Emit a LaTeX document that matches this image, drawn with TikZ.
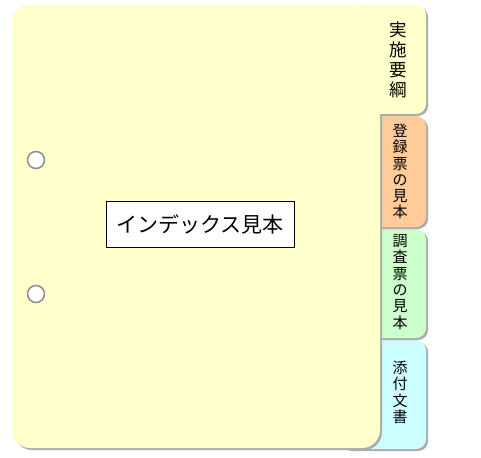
\documentclass[tikz,border=0pt]{standalone}
\usepackage{fontspec}
\usepackage{xcolor}
\usepackage{tikz}
\newfontfamily\jpfont{Noto Sans CJK JP}
\definecolor{pageyellow}{HTML}{FFFFCC}
\definecolor{tabpeach}{HTML}{FFCC99}
\definecolor{tabgreen}{HTML}{CCFFCC}
\definecolor{tabcyan}{HTML}{CCFFFF}
\definecolor{shadowgray}{HTML}{A8ACAC}

\begin{document}
\begin{tikzpicture}[x=1pt, y=-1pt]
\tikzstyle{shade} = [fill=shadowgray, shift={(2pt,-2pt)}]
\tikzstyle{tab} = [rounded corners=10pt]
\tikzstyle{hole} = [draw=gray!85, line width=1.6pt, fill=white]
\tikzstyle{tablabel} = [align=center, inner sep=0pt, font=\jpfont\fontsize{15}{16.3}\selectfont]
\tikzstyle{title} = [rectangle, draw, fill=white, minimum width=188pt, minimum height=46pt, font=\jpfont\fontsize{21}{24}\selectfont]

\useasboundingbox (0,0) rectangle (481,457);

% tabs behind the page, back to front
\fill[shade, tab] (340,340) rectangle (426,449);
\fill[tabcyan, tab] (340,340) rectangle (426,449);
\fill[shade, tab] (340,229) rectangle (426,338);
\fill[tabgreen, tab] (340,229) rectangle (426,338);
\fill[shade, tab] (340,116) rectangle (426,227);
\fill[tabpeach, tab] (340,116) rectangle (426,227);

% page with its own tab
\fill[shade, rounded corners=18pt] (12,5) rectangle (380,448);
\fill[shade, tab] (340,5) rectangle (426,114);
\fill[pageyellow, rounded corners=18pt] (12,5) rectangle (380,448);
\fill[pageyellow, tab] (340,5) rectangle (426,114);

\node[hole, circle, minimum size=17pt, inner sep=0pt] (hole1) at (36,160) {};
\node[hole, circle, minimum size=17pt, inner sep=0pt] (hole2) at (36,294) {};

\node[title] (name) at (200,224) {インデックス見本};

\node[tablabel, font=\jpfont\fontsize{17.5}{20}\selectfont] (tab1) at (398,60) {実\\施\\要\\綱};
\node[tablabel] (tab2) at (400,171.5) {登\\録\\票\\の\\見\\本};
\node[tablabel] (tab3) at (400,282) {調\\査\\票\\の\\見\\本};
\node[tablabel] (tab4) at (400,392.5) {添\\付\\文\\書};
\end{tikzpicture}
\end{document}
